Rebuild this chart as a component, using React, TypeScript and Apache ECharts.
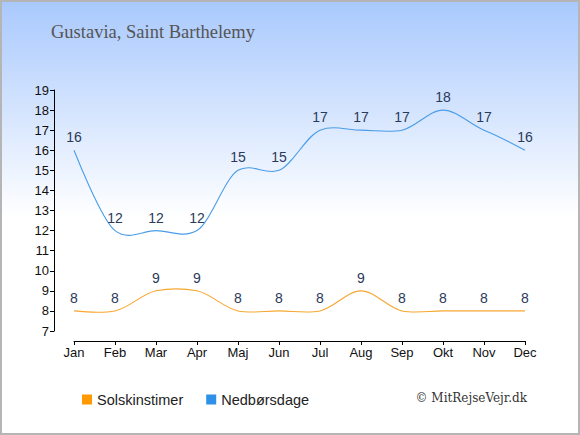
import React, { useEffect, useRef } from "react";
import * as echarts from "echarts";

const months = ["Jan", "Feb", "Mar", "Apr", "Maj", "Jun", "Jul", "Aug", "Sep", "Okt", "Nov", "Dec"];
const sunHours = [8, 8, 9, 9, 8, 8, 8, 9, 8, 8, 8, 8];
const rainDays = [16, 12, 12, 12, 15, 15, 17, 17, 17, 18, 17, 16];
const seriesNames = ["Solskinstimer", "Nedbørsdage"];
const titleText = "Gustavia, Saint Barthelemy";
const creditText = "© MitRejseVejr.dk";

const SANS = "Liberation Sans, Arial, sans-serif";
const TENSION = 0.8;

function splineSeries(name: string, values: number[], color: string) {
  return {
    name,
    type: "custom",
    silent: true,
    clip: false,
    z: 3,
    encode: { x: 0, y: 1 },
    data: values.map((v, i) => [i, v]),
    itemStyle: { color },
    renderItem: (params: any, api: any) => {
      if (params.dataIndex !== 0) return null;
      const pts = values.map((v, i) => api.coord([i, v]));
      const n = pts.length;
      let d = `M${pts[0][0]},${pts[0][1]}`;
      for (let i = 0; i < n - 1; i++) {
        const p0 = pts[Math.max(i - 1, 0)];
        const p1 = pts[i];
        const p2 = pts[i + 1];
        const p3 = pts[Math.min(i + 2, n - 1)];
        const third = (p2[0] - p1[0]) / 3;
        let c1x = p1[0];
        let c1y = p1[1];
        if (i > 0) {
          c1x = p1[0] + third;
          c1y = p1[1] + ((p2[1] - p0[1]) / 2 / 3) * TENSION;
        }
        let c2x = p2[0];
        let c2y = p2[1];
        if (i + 1 < n - 1) {
          c2x = p2[0] - third;
          c2y = p2[1] - ((p3[1] - p1[1]) / 2 / 3) * TENSION;
        }
        d += ` C${c1x},${c1y} ${c2x},${c2y} ${p2[0]},${p2[1]}`;
      }
      return {
        type: "path",
        shape: { pathData: d },
        style: { stroke: color, fill: "none", lineWidth: 1.1 },
      };
    },
  };
}

function labelSeries(name: string, values: number[], color: string) {
  return {
    name,
    type: "line",
    data: values,
    symbol: "circle",
    symbolSize: 0,
    showSymbol: true,
    silent: true,
    lineStyle: { opacity: 0, width: 0 },
    itemStyle: { color },
    label: {
      show: true,
      position: "top",
      distance: 6,
      color: "#2b3a5a",
      fontSize: 14,
      fontFamily: SANS,
    },
    z: 4,
  };
}

export default function App() {
  const ref = useRef<HTMLDivElement>(null);
  useEffect(() => {
    document.body.style.margin = "0";
    const chart = echarts.init(ref.current!, null, { renderer: "svg" });
    chart.setOption({
      animation: false,
      textStyle: { fontFamily: SANS },
      grid: { left: 74, right: 55, top: 90, bottom: 104, containLabel: false },
      graphic: [
        {
          type: "text",
          left: 51,
          top: 22,
          style: { text: titleText, fontFamily: "Liberation Serif, serif", fontSize: 18.5, fill: "#555555" },
        },
        {
          type: "text",
          right: 53,
          top: 392,
          style: { text: creditText, fontFamily: "DejaVu Serif, serif", fontSize: 12, fill: "#333333" },
        },
      ],
      legend: {
        left: 77,
        top: 387,
        itemWidth: 10,
        itemHeight: 10,
        itemGap: 23,
        icon: "rect",
        textStyle: { fontSize: 14.5, color: "#222", fontFamily: SANS },
        data: [
          { name: seriesNames[0], itemStyle: { color: "#ff9900" } },
          { name: seriesNames[1], itemStyle: { color: "#2f90e8" } },
        ],
      },
      xAxis: {
        type: "category",
        data: months,
        boundaryGap: false,
        offset: 10,
        axisLine: { lineStyle: { color: "#000", width: 1 } },
        axisTick: { length: 4, lineStyle: { color: "#000" } },
        axisLabel: { color: "#111", fontSize: 13, margin: 5 },
        splitLine: { show: false },
      },
      yAxis: {
        type: "value",
        min: 7,
        max: 19,
        interval: 1,
        offset: 20,
        axisLine: { show: true, lineStyle: { color: "#000", width: 1 } },
        axisTick: { show: true, length: 4, lineStyle: { color: "#000" } },
        axisLabel: { color: "#111", fontSize: 13, margin: 5 },
        splitLine: { show: false },
      },
      series: [
        splineSeries(seriesNames[0], sunHours, "#f7a730"),
        splineSeries(seriesNames[1], rainDays, "#4a9de8"),
        labelSeries(seriesNames[0], sunHours, "#ff9900"),
        labelSeries(seriesNames[1], rainDays, "#2f90e8"),
      ],
    });
    return () => chart.dispose();
  }, []);
  return (
    <div
      style={{
        position: "relative",
        width: 580,
        height: 435,
        boxSizing: "border-box",
        border: "2px solid #b5b5b5",
        background: "linear-gradient(to bottom, #a9c9fd 0px, #ffffff 215px, #ffffff 100%)",
      }}
    >
      <div ref={ref} style={{ position: "absolute", left: -2, top: -2, width: 580, height: 435 }} />
    </div>
  );
}
